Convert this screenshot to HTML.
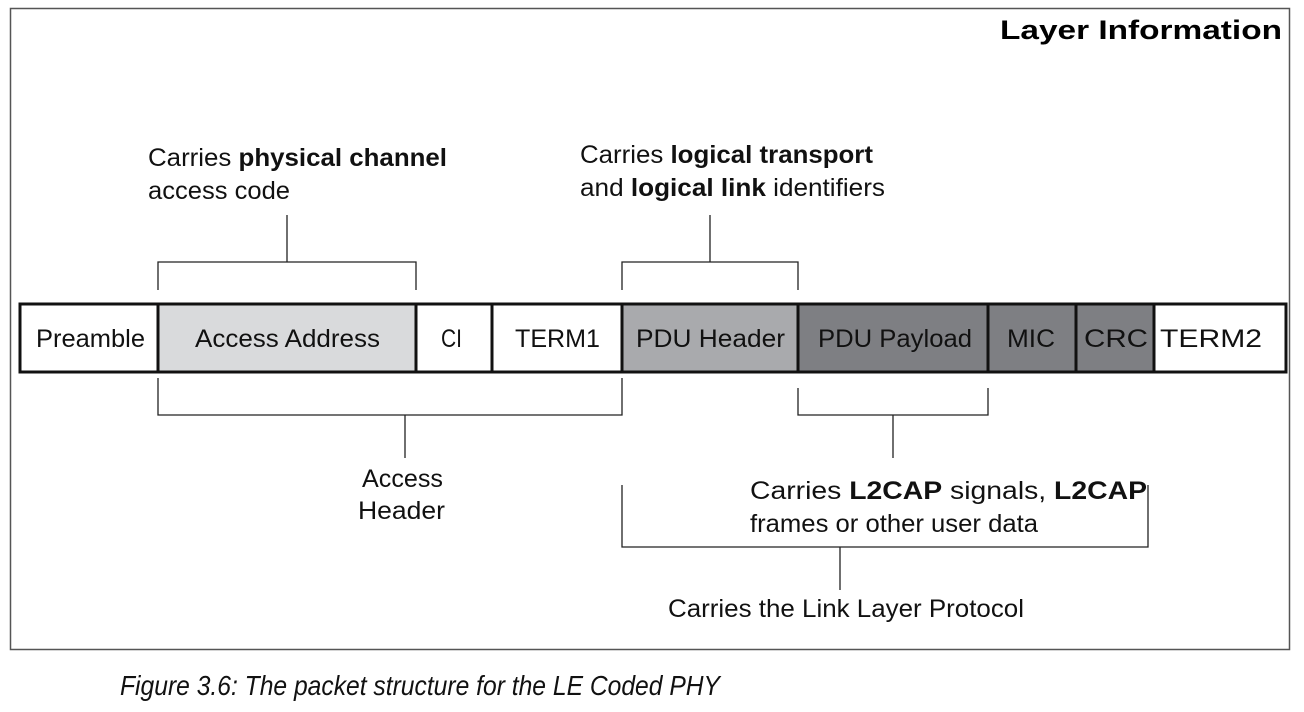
<!DOCTYPE html>
<html><head><meta charset="utf-8"><style>
html,body{margin:0;padding:0;background:#fff;}
svg{display:block;font-family:"Liberation Sans",Arial,sans-serif;}
</style></head><body>
<svg width="1304" height="712" viewBox="0 0 1304 712" xmlns="http://www.w3.org/2000/svg">
<rect x="10.5" y="8.5" width="1279" height="641" fill="#fff" stroke="#555" stroke-width="1.5"/>
<text x="1000" y="39" font-size="27" font-weight="bold" textLength="282" lengthAdjust="spacingAndGlyphs">Layer Information</text>
<g stroke="#222" stroke-width="1.3" fill="none">
<path d="M158 290V262H416V290M287 262V215"/>
<path d="M622 290V262H798V290M710 262V215"/>
<path d="M158 378V415H622V378M405 415V458"/>
<path d="M798 388V415H988V388M893 415V458"/>
<path d="M622 485V547H1148V485M840 547V590"/>
</g>
<g stroke="#111" stroke-width="3">
<rect x="20" y="304" width="138" height="68" fill="#fff"/>
<rect x="158" y="304" width="258" height="68" fill="#d9dadc"/>
<rect x="416" y="304" width="76" height="68" fill="#fff"/>
<rect x="492" y="304" width="130" height="68" fill="#fff"/>
<rect x="622" y="304" width="176" height="68" fill="#a9aaad"/>
<rect x="798" y="304" width="190" height="68" fill="#7e7f83"/>
<rect x="988" y="304" width="88" height="68" fill="#7e7f83"/>
<rect x="1076" y="304" width="78" height="68" fill="#7e7f83"/>
<rect x="1154" y="304" width="132" height="68" fill="#fff"/>
</g>
<g font-size="25" fill="#111">
<text x="36" y="347" textLength="109" lengthAdjust="spacingAndGlyphs">Preamble</text>
<text x="195" y="347" textLength="185" lengthAdjust="spacingAndGlyphs">Access Address</text>
<text x="441" y="347" textLength="21" lengthAdjust="spacingAndGlyphs">CI</text>
<text x="515" y="347" textLength="85" lengthAdjust="spacingAndGlyphs">TERM1</text>
<text x="636" y="347" textLength="149" lengthAdjust="spacingAndGlyphs">PDU Header</text>
<text x="818" y="347" textLength="154" lengthAdjust="spacingAndGlyphs">PDU Payload</text>
<text x="1007" y="347" textLength="48" lengthAdjust="spacingAndGlyphs">MIC</text>
<text x="1084" y="347" textLength="64" lengthAdjust="spacingAndGlyphs">CRC</text>
<text x="1160" y="347" textLength="102" lengthAdjust="spacingAndGlyphs">TERM2</text>
</g>
<g font-size="25" fill="#111">
<text x="148" y="166" textLength="299" lengthAdjust="spacingAndGlyphs">Carries <tspan font-weight="bold">physical channel</tspan></text>
<text x="148" y="199" textLength="142" lengthAdjust="spacingAndGlyphs">access code</text>
<text x="580" y="163" textLength="293" lengthAdjust="spacingAndGlyphs">Carries <tspan font-weight="bold">logical transport</tspan></text>
<text x="580" y="196" textLength="305" lengthAdjust="spacingAndGlyphs">and <tspan font-weight="bold">logical link</tspan> identifiers</text>
<text x="362" y="487" textLength="81" lengthAdjust="spacingAndGlyphs">Access</text>
<text x="358" y="519" textLength="87" lengthAdjust="spacingAndGlyphs">Header</text>
<text x="750" y="499" textLength="397" lengthAdjust="spacingAndGlyphs">Carries <tspan font-weight="bold">L2CAP</tspan> signals, <tspan font-weight="bold">L2CAP</tspan></text>
<text x="750" y="532" textLength="288" lengthAdjust="spacingAndGlyphs">frames or other user data</text>
<text x="668" y="617" textLength="356" lengthAdjust="spacingAndGlyphs">Carries the Link Layer Protocol</text>
</g>
<text x="120" y="695" font-size="28" font-style="italic" fill="#111" textLength="600" lengthAdjust="spacingAndGlyphs">Figure 3.6:  The packet structure for the LE Coded PHY</text>
</svg>
</body></html>
